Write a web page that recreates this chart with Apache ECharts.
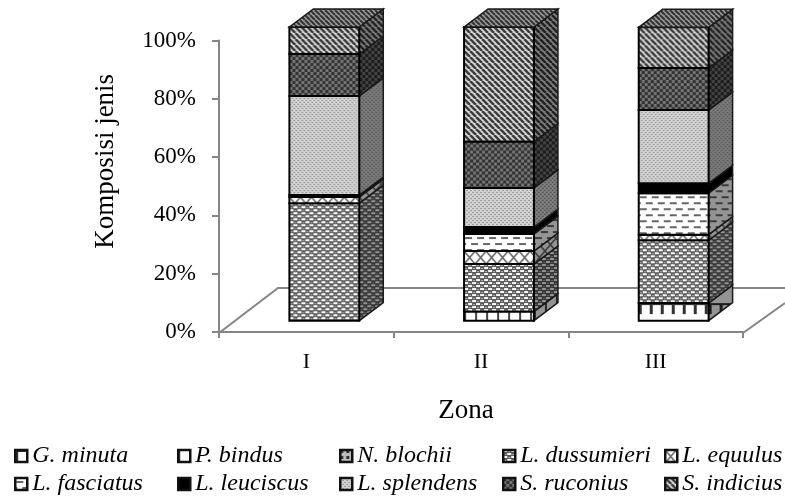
<!DOCTYPE html>
<html>
<head>
<meta charset="utf-8">
<script src="https://cdn.jsdelivr.net/npm/echarts@6/dist/echarts.min.js"></script>
<style>
  html, body { margin: 0; background: #fff; }
  #chart { width: 785px; height: 497px; }
</style>
</head>
<body>
<div id="chart"></div>
<script>
const zones = ['I', 'II', 'III'];
const species = ['G. minuta', 'P. bindus', 'N. blochii', 'L. dussumieri', 'L. equulus',
  'L. fasciatus', 'L. leuciscus', 'L. splendens', 'S. ruconius', 'S. indicius'];
const tickLabels = ['0%', '20%', '40%', '60%', '80%', '100%'];

const gMinuta = [0, 0, 6.0];
const pBindus = [0, 3.1, 0];
const nBlochii = [0, 0, 0];
const lDussumieri = [40.0, 16.2, 21.4];
const lEquulus = [2.1, 4.4, 1.9];
const lFasciatus = [0, 5.8, 14.1];
const lLeuciscus = [0.7, 2.4, 3.4];
const lSplendens = [33.7, 13.3, 24.9];
const sRuconius = [14.3, 15.8, 14.3];
const sIndicius = [9.2, 39.0, 13.9];
const values = [gMinuta, pBindus, nBlochii, lDussumieri, lEquulus,
  lFasciatus, lLeuciscus, lSplendens, sRuconius, sIndicius];

const fontName = '"Liberation Serif", "Times New Roman", serif';
const axisGrey = '#868686';
const depthX = 24, depthY = 18;

// hatch fills, one small canvas per species
function cell(w, h, bg, draw, shade) {
  const c = document.createElement('canvas');
  c.width = w; c.height = h;
  const g = c.getContext('2d');
  g.fillStyle = bg;
  g.fillRect(0, 0, w, h);
  draw(g);
  if (shade) {
    g.fillStyle = 'rgba(0,0,0,' + shade + ')';
    g.fillRect(0, 0, w, h);
  }
  return c;
}

const painters = [
  // tooth
  [11, 40, '#fff', g => {
    g.fillStyle = '#333';
    g.fillRect(0, 0, 11, 2);
    g.fillRect(0, 0, 3, 10);
    g.fillRect(0, 8, 3, 3);
  }],
  // squares
  [11, 40, '#fff', g => {
    g.fillStyle = '#444';
    g.fillRect(0, 0, 2, 40);
  }],
  [6, 6, '#bbb', g => {
    g.fillStyle = '#333';
    g.fillRect(0, 0, 3, 3);
  }],
  // honeycomb speckle
  [8, 6, '#5a5a5a', g => {
    g.fillStyle = '#fff';
    g.fillRect(0, 0, 4, 2);
    g.fillRect(4, 3, 4, 2);
    g.fillStyle = '#b0b0b0';
    g.fillRect(5, 1, 2, 1);
    g.fillRect(1, 4, 2, 1);
  }],
  // crossed diamonds
  [11, 13, '#fff', g => {
    g.strokeStyle = '#666';
    g.lineWidth = 1.6;
    g.beginPath();
    g.moveTo(0, 0); g.lineTo(11, 13);
    g.moveTo(11, 0); g.lineTo(0, 13);
    g.stroke();
  }],
  // dashes
  [12, 12, '#fff', g => {
    g.fillStyle = '#666';
    g.fillRect(1, 3, 7, 2);
    g.fillRect(7, 9, 5, 2);
    g.fillRect(0, 9, 2, 2);
  }],
  [4, 4, '#000', () => {}],
  // fine light dots
  [4, 4, '#cfcfcf', g => {
    g.fillStyle = '#9c9c9c';
    g.fillRect(0, 0, 2, 1);
    g.fillRect(2, 2, 2, 1);
    g.fillStyle = '#e4e4e4';
    g.fillRect(2, 0, 1, 1);
    g.fillRect(0, 2, 1, 1);
  }],
  // dark dots
  [6, 6, '#707070', g => {
    g.fillStyle = '#333';
    g.fillRect(0, 0, 3, 3);
    g.fillRect(3, 3, 3, 3);
    g.fillStyle = '#8c8c8c';
    g.fillRect(4, 0, 1, 1);
    g.fillRect(1, 4, 1, 1);
  }],
  // diagonal stripes
  [6, 6, '#e0e0e0', g => {
    g.strokeStyle = '#3a3a3a';
    g.lineWidth = 2.6;
    g.beginPath();
    for (let i = -6; i <= 6; i += 6) {
      g.moveTo(i, 0); g.lineTo(i + 6, 6);
    }
    g.stroke();
  }]
];
const frontFill = painters.map(p => cell(p[0], p[1], p[2], p[3]));
const sideFill = painters.map(p => cell(p[0], p[1], p[2], p[3], 0.42));
const topFill = cell(5, 5, '#999', g => {
  g.strokeStyle = '#333';
  g.lineWidth = 2;
  g.beginPath();
  for (let i = -5; i <= 5; i += 5) {
    g.moveTo(i, 0); g.lineTo(i + 5, 5);
  }
  g.stroke();
});

function renderBlock(params, api) {
  const low = api.coord([api.value(0), api.value(1)]);
  const high = api.coord([api.value(0), api.value(2)]);
  const width = api.size([1, 0])[0] * 0.4;
  const x0 = low[0] - width / 2, x1 = low[0] + width / 2;
  const i = params.seriesIndex;
  if (api.value(2) - api.value(1) <= 0) return null;
  const children = [{
    type: 'polygon',
    shape: { points: [[x1, high[1]], [x1 + depthX, high[1] - depthY], [x1 + depthX, low[1] - depthY], [x1, low[1]]] },
    style: { fill: { image: sideFill[i], repeat: 'repeat', x: x1, y: high[1] }, stroke: '#1a1a1a', lineWidth: 1.5 }
  }, {
    type: 'rect',
    shape: { x: x0, y: high[1], width: width, height: low[1] - high[1] },
    style: { fill: { image: frontFill[i], repeat: 'repeat', x: x0, y: high[1] }, stroke: '#000', lineWidth: 2 }
  }];
  if (i === species.length - 1) {
    children.push({
      type: 'polygon',
      shape: { points: [[x0, high[1]], [x1, high[1]], [x1 + depthX, high[1] - depthY], [x0 + depthX, high[1] - depthY]] },
      style: { fill: { image: topFill, repeat: 'repeat' }, stroke: '#1a1a1a', lineWidth: 1.5 }
    });
  }
  return { type: 'group', children: children };
}

// stack the shares zone by zone
const running = zones.map(() => 0);
const series = species.map((name, s) => ({
  name: name,
  type: 'custom',
  xAxisIndex: 1,
  yAxisIndex: 1,
  renderItem: renderBlock,
  encode: { x: 0, y: [1, 2] },
  silent: true,
  data: zones.map((z, i) => {
    const start = running[i];
    running[i] += values[s][i];
    return [i, start, running[i]];
  })
}));

const legendLeft = [14, 177, 339, 502, 664];
const legendTop = [444, 472];
const legends = species.map((name, s) => ({
  left: legendLeft[s % 5],
  top: legendTop[Math.floor(s / 5)],
  padding: 0,
  selectedMode: false,
  itemWidth: 12,
  itemHeight: 12,
  itemGap: 5,
  icon: 'rect',
  textStyle: { fontFamily: fontName, fontStyle: 'italic', fontSize: 24, color: '#000' },
  data: [{
    name: name,
    itemStyle: {
      color: { image: frontFill[s], repeat: 'repeat' },
      borderColor: '#111',
      borderWidth: 2.5
    }
  }]
}));

const chart = echarts.init(document.getElementById('chart'));
chart.setOption({
  animation: false,
  backgroundColor: '#fff',
  legend: legends,
  grid: [
    { left: 219, top: 40.5, width: 524, height: 291.5 },
    { left: 237, top: 27, width: 524, height: 293.7 }
  ],
  xAxis: [{
    type: 'category',
    gridIndex: 0,
    data: zones,
    offset: 1,
    name: 'Zona',
    nameLocation: 'middle',
    nameGap: 64,
    nameTextStyle: { fontFamily: fontName, fontSize: 27, color: '#000', padding: [0, 30, 0, 0] },
    axisLine: { lineStyle: { color: axisGrey, width: 2 } },
    axisTick: { show: true, alignWithLabel: false, length: 6, lineStyle: { color: axisGrey, width: 2 } },
    axisLabel: { fontFamily: fontName, fontSize: 22, color: '#000', margin: 18 }
  }, {
    type: 'category',
    gridIndex: 1,
    data: zones,
    show: false
  }],
  yAxis: [{
    type: 'value',
    gridIndex: 0,
    min: 0,
    max: 100,
    interval: 20,
    name: 'Komposisi jenis',
    nameLocation: 'middle',
    nameRotate: 90,
    nameGap: 100,
    nameTextStyle: { fontFamily: fontName, fontSize: 27, color: '#000', padding: [0, 0, 0, 50] },
    splitLine: { show: false },
    axisLine: { show: true, lineStyle: { color: axisGrey, width: 2 } },
    axisTick: { show: true, length: 7, lineStyle: { color: axisGrey, width: 2 } },
    axisLabel: {
      fontFamily: fontName,
      fontSize: 23,
      color: '#000',
      margin: 23,
      formatter: v => tickLabels[v / 20]
    }
  }, {
    type: 'value',
    gridIndex: 1,
    min: 0,
    max: 100,
    show: false
  }],
  graphic: [{
    // chart floor behind the columns
    type: 'polyline',
    silent: true,
    z: 0,
    shape: { points: [[219, 333], [278, 288], [785, 288]] },
    style: { fill: 'none', stroke: axisGrey, lineWidth: 2 }
  }, {
    type: 'line',
    silent: true,
    z: 0,
    shape: { x1: 743, y1: 333, x2: 785, y2: 303 },
    style: { stroke: axisGrey, lineWidth: 2 }
  }],
  series: series
});
</script>
</body>
</html>
